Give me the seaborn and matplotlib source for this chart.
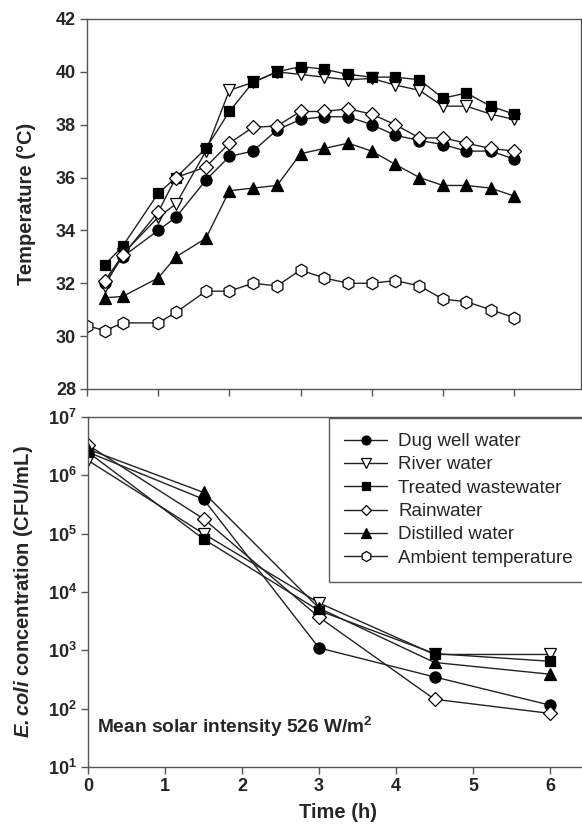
import numpy as np
import pandas as pd
import matplotlib
matplotlib.use('Agg')
import matplotlib.pyplot as plt
import seaborn as sns
from matplotlib.ticker import FixedLocator, FuncFormatter, NullLocator

# ── data ─────────────────────────────────────────────────────────────────────
series = ['Dug well water', 'River water', 'Treated wastewater',
          'Rainwater', 'Distilled water', 'Ambient temperature']

# temperature panel (h)
t_water = [0.25, 0.5, 1.0, 1.25, 1.67, 2.0, 2.33, 2.67, 3.0, 3.33, 3.67,
           4.0, 4.33, 4.67, 5.0, 5.33, 5.67, 6.0]
t_amb = [0.0] + t_water

temp_dug = [32.0, 33.0, 34.0, 34.5, 35.9, 36.8, 37.0, 37.8, 38.2, 38.3, 38.3,
            38.0, 37.6, 37.4, 37.25, 37.0, 37.0, 36.7]
temp_river = [31.9, 33.1, 34.5, 35.0, 37.0, 39.3, 39.6, 40.0, 39.9, 39.8, 39.7,
              39.75, 39.5, 39.3, 38.7, 38.7, 38.4, 38.2]
temp_treated = [32.7, 33.4, 35.4, 36.0, 37.1, 38.5, 39.6, 40.0, 40.2, 40.1, 39.9,
                39.8, 39.8, 39.7, 39.0, 39.2, 38.7, 38.4]
temp_rain = [32.1, 33.05, 34.7, 36.0, 36.4, 37.3, 37.9, 37.95, 38.5, 38.5, 38.6,
             38.4, 38.0, 37.5, 37.5, 37.3, 37.1, 37.0]
temp_distilled = [31.45, 31.5, 32.2, 33.0, 33.7, 35.5, 35.6, 35.7, 36.9, 37.1, 37.3,
                  37.0, 36.5, 36.0, 35.7, 35.7, 35.6, 35.3]
temp_ambient = [30.4, 30.2, 30.5, 30.5, 30.9, 31.7, 31.7, 32.0, 31.9, 32.5, 32.2,
                32.0, 32.0, 32.1, 31.9, 31.4, 31.3, 31.0, 30.7]

# E. coli panel
t_coli = [0, 1.5, 3, 4.5, 6]
coli_dug = [2.5e6, 3.9e5, 1.1e3, 350, 115]
coli_river = [1.8e6, 1.0e5, 6.5e3, 850, 850]
coli_treated = [2.5e6, 8.1e4, 4.8e3, 880, 650]
coli_rain = [3.3e6, 1.8e5, 3.7e3, 145, 83]
coli_distilled = [2.8e6, 5.1e5, 5.3e3, 620, 390]

# ── style ────────────────────────────────────────────────────────────────────
sns.set_style('ticks')
plt.rcParams['font.family'] = ['Liberation Sans', 'DejaVu Sans']
plt.rcParams['mathtext.fontset'] = 'custom'
plt.rcParams['mathtext.rm'] = 'Liberation Sans'
plt.rcParams['mathtext.bf'] = 'Liberation Sans:bold'
plt.rcParams['mathtext.it'] = 'Liberation Sans:italic'
plt.rcParams['mathtext.bfit'] = 'Liberation Sans:bold:italic'

marker_style = {
    'Dug well water': dict(marker='o', markerfacecolor='black', markersize=8),
    'River water': dict(marker='v', markerfacecolor='white', markersize=9),
    'Treated wastewater': dict(marker='s', markerfacecolor='black', markersize=7.5),
    'Rainwater': dict(marker='D', markerfacecolor='white', markersize=7),
    'Distilled water': dict(marker='^', markerfacecolor='black', markersize=8.5),
    'Ambient temperature': dict(marker='h', markerfacecolor='white', markersize=9),
}
line_kw = dict(color='#222222', linewidth=1.0, markeredgecolor='black',
               markeredgewidth=0.9)
spine_col = '#555555'
tick_fs = 13
lab_fs = 14.5

fig = plt.figure(figsize=(5.82, 8.32), dpi=100)
ax1 = fig.add_axes([0.1495, 0.5325, 0.8488, 0.4447])
ax2 = fig.add_axes([0.1512, 0.0781, 0.86, 0.4207])

# ── top: temperature ────────────────────────────────────────────────────────
temp_data = [(t_water, temp_dug), (t_water, temp_river), (t_water, temp_treated),
             (t_water, temp_rain), (t_water, temp_distilled), (t_amb, temp_ambient)]
for name, (tx, ty) in zip(series, temp_data):
    sns.lineplot(x=tx, y=ty, ax=ax1, label=name, legend=False,
                 **line_kw, **marker_style[name])

ax1.set_xlim(0, 6.94)
ax1.set_ylim(28, 42)
ax1.set_yticks(np.arange(28, 43, 2))
ax1.set_xticks(range(0, 7))
ax1.set_xticklabels([])
ax1.set_ylabel('Temperature (°C)', fontsize=lab_fs, fontweight='bold', labelpad=14)
for lab in ax1.get_yticklabels():
    lab.set_fontweight('bold')
    lab.set_fontsize(tick_fs)

# ── bottom: E. coli ─────────────────────────────────────────────────────────
coli_data = [coli_dug, coli_river, coli_treated, coli_rain, coli_distilled]
for name, vals in zip(series[:5], coli_data):
    sns.lineplot(x=t_coli, y=vals, ax=ax2, label=name, legend=False,
                 **line_kw, **marker_style[name])
ax2.set_yscale('log')
ax2.set_ylim(10, 1e7)
ax2.set_xlim(0, 6.5)
ax2.yaxis.set_major_locator(FixedLocator([10 ** k for k in range(1, 8)]))
ax2.yaxis.set_minor_locator(NullLocator())
ax2.yaxis.set_major_formatter(
    FuncFormatter(lambda v, p: r'$\mathbf{10^{%d}}$' % round(np.log10(v))))
ax2.set_xticks(range(0, 7))
ax2.set_xlabel('Time (h)', fontsize=lab_fs, fontweight='bold', labelpad=6)
ax2.set_ylabel(r'$\mathbfit{E.coli}$ concentration (CFU/mL)',
               fontsize=lab_fs, fontweight='bold', labelpad=9)
for lab in ax2.get_xticklabels() + ax2.get_yticklabels():
    lab.set_fontweight('bold')
    lab.set_fontsize(tick_fs)

ax2.text(0.018, 0.114, r'Mean solar intensity 526 W/m$\mathbf{^2}$',
         transform=ax2.transAxes, fontsize=13.8, fontweight='bold', va='center')

# legend with all six series (ambient handle taken from the top panel)
handles = ax2.get_lines()[:5] + [ax1.get_lines()[5]]
leg = fig.legend(handles, series, loc='upper left',
                 bbox_to_anchor=(329 / 582, 1 - 418 / 832),
                 bbox_transform=fig.transFigure, frameon=True, fancybox=False,
                 fontsize=13.5, handlelength=2.3, handletextpad=0.6,
                 labelspacing=0.33, borderpad=0.8, borderaxespad=0,
                 markerscale=0.8)
leg.get_frame().set_edgecolor('#333333')
leg.get_frame().set_linewidth(1.0)

for ax in (ax1, ax2):
    for sp in ax.spines.values():
        sp.set_visible(True)
        sp.set_color(spine_col)
        sp.set_linewidth(1.0)
    ax.tick_params(direction='out', length=5, width=1, color=spine_col, pad=3)

fig.savefig('out.png', dpi=100)
